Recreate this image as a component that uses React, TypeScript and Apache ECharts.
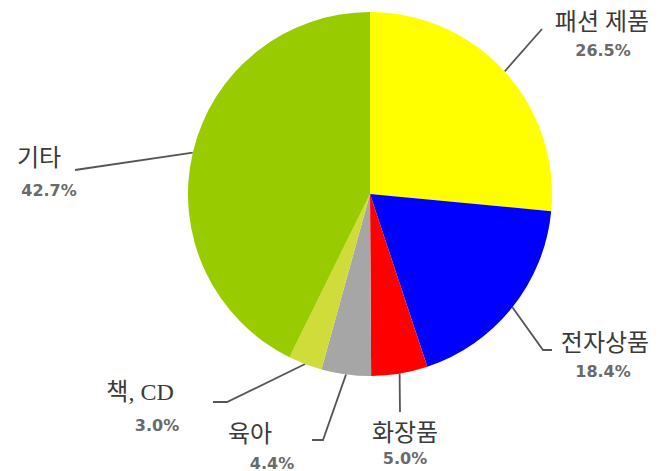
import React, { useEffect, useRef } from "react";
import * as echarts from "echarts";

const categories = ["패션 제품", "전자상품", "화장품", "육아", "책, CD", "기타"];
const values = [26.5, 18.4, 5.0, 4.4, 3.0, 42.7];
const colors = ["#FFFF00", "#0000FF", "#FF0000", "#A6A6A6", "#CFDC3A", "#99CC00"];

// label placement (name-line centre x, name-line top y), percent offset, leader-line bends
const labelLayouts = [
  { x: 602, y: 8, pctDx: 1, pctLH: 28, line: [[542, 29]] },
  { x: 605, y: 329, pctDx: -2, pctLH: 28, line: [[543, 350], [552, 350]] },
  { x: 405, y: 419, pctDx: 0, pctLH: 22, line: [[400, 412]] },
  { x: 250, y: 420, pctDx: 22, pctLH: 30, line: [[323, 440], [312, 440]] },
  { x: 140, y: 378, pctDx: 17, pctLH: 38, line: [[227, 402], [213, 402]] },
  { x: 39, y: 144, pctDx: 10, pctLH: 36, line: [[75, 170]] },
];

export default function App() {
  const ref = useRef<HTMLDivElement>(null);
  useEffect(() => {
    if (!ref.current) return;
    const chart = echarts.init(ref.current, null, { renderer: "svg" });
    const rich: Record<string, any> = {
      n: {
        fontFamily: "'Liberation Serif', 'Noto Sans CJK KR'",
        fontSize: 24,
        color: "#3a3a3a",
        lineHeight: 28,
        align: "center",
      },
    };
    labelLayouts.forEach((l, i) => {
      rich["p" + i] = {
        fontFamily: "DejaVu Sans",
        fontSize: 16,
        fontWeight: "bold",
        color: "#6a6a6a",
        lineHeight: l.pctLH,
        align: "center",
        padding: l.pctDx >= 0 ? [0, 0, 0, 2 * l.pctDx] : [0, -2 * l.pctDx, 0, 0],
      };
    });
    chart.setOption({
      animation: false,
      backgroundColor: "#ffffff",
      series: [
        {
          type: "pie",
          center: [370, 194],
          radius: 182,
          startAngle: 90,
          clockwise: true,
          avoidLabelOverlap: false,
          data: categories.map((c, i) => ({
            name: c,
            value: values[i],
            itemStyle: { color: colors[i] },
          })),
          label: {
            show: true,
            position: "outside",
            formatter: (p: any) =>
              `{n|${p.name}}\n{p${p.dataIndex}|${values[p.dataIndex].toFixed(1)}%}`,
            rich,
          },
          labelLine: {
            show: true,
            length: 20,
            length2: 10,
            lineStyle: { color: "#555555", width: 1.8 },
          },
          labelLayout: (params: any) => {
            const l = labelLayouts[params.dataIndex];
            const start = params.labelLinePoints ? params.labelLinePoints[0] : null;
            const res: any = { x: l.x, y: l.y, align: "center", verticalAlign: "top" };
            if (start) res.labelLinePoints = [start, ...l.line];
            return res;
          },
        },
      ],
    });
    return () => chart.dispose();
  }, []);
  return (
    <div
      ref={ref}
      style={{ position: "fixed", left: 0, top: 0, width: 662, height: 471 }}
    />
  );
}
